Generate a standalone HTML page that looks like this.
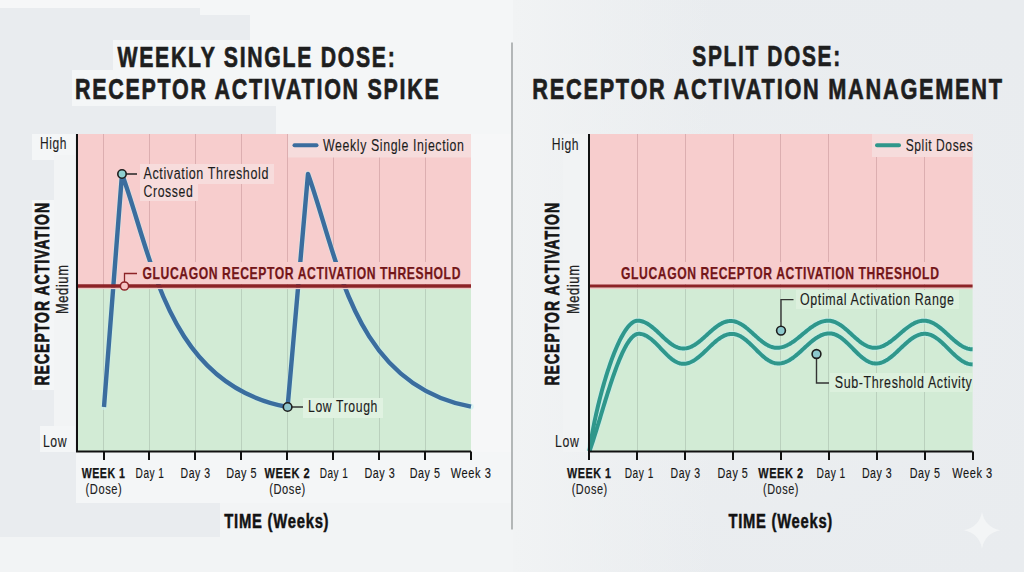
<!DOCTYPE html>
<html><head><meta charset="utf-8"><style>
html,body{margin:0;padding:0;background:#e8ecee;}
svg{display:block;font-family:"Liberation Sans", sans-serif;}
</style></head><body>
<svg width="1024" height="572" viewBox="0 0 1024 572">
<defs>
<radialGradient id="bgg" cx="760" cy="300" r="420" gradientUnits="userSpaceOnUse">
<stop offset="0" stop-color="#f2f4f5" stop-opacity="0.5"/>
<stop offset="1" stop-color="#e8ecee" stop-opacity="0"/>
</radialGradient>
<linearGradient id="bgl" x1="513" y1="0" x2="713" y2="0" gradientUnits="userSpaceOnUse">
<stop offset="0" stop-color="#f1f3f4" stop-opacity="1"/>
<stop offset="1" stop-color="#f1f3f4" stop-opacity="0"/>
</linearGradient>
</defs>
<rect x="0" y="0" width="1024" height="572" fill="#e9ecef"/>
<rect x="0" y="0" width="1024" height="572" fill="url(#bgg)"/>
<rect x="513" y="0" width="200" height="572" fill="url(#bgl)"/>
<rect x="0" y="0" width="200" height="8" fill="#f6f7f8"/>
<rect x="250" y="0" width="263" height="40" fill="#f4f6f7"/>
<rect x="200" y="0" width="50" height="15" fill="#f4f6f7"/>
<rect x="113" y="40" width="400" height="30" fill="#f4f6f7"/>
<rect x="72" y="70" width="441" height="36" fill="#f4f6f7"/>
<rect x="276" y="106" width="237" height="28" fill="#f4f6f7"/>
<rect x="471" y="134" width="42" height="318" fill="#f6f7f8"/>
<rect x="563" y="134" width="26" height="318" fill="#f1f3f4"/>
<rect x="32" y="134" width="43" height="26" fill="#f4f6f7"/>
<rect x="32" y="200" width="25" height="190" fill="#f4f6f7"/>
<rect x="54" y="155" width="21" height="295" fill="#f2f4f5"/>
<rect x="40" y="426" width="35" height="26" fill="#f4f6f7"/>
<rect x="76" y="452" width="437" height="51" fill="#f4f6f7"/>
<rect x="220" y="503" width="293" height="69" fill="#f2f4f5"/>
<rect x="0" y="537" width="225" height="35" fill="#f2f4f5"/>
<line x1="512" y1="42.5" x2="512" y2="529.5" stroke="#a3a7a7" stroke-width="1.6"/>
<text x="117.5" y="66.6" font-size="30" font-weight="bold" fill="#1e1e1e" stroke="#1e1e1e" stroke-width="0.7" textLength="279.0" lengthAdjust="spacingAndGlyphs" letter-spacing="2.40">WEEKLY SINGLE DOSE:</text>
<text x="75.0" y="98.5" font-size="30" font-weight="bold" fill="#1e1e1e" stroke="#1e1e1e" stroke-width="0.7" textLength="365.5" lengthAdjust="spacingAndGlyphs" letter-spacing="2.40">RECEPTOR ACTIVATION SPIKE</text>
<text x="692.3" y="66.3" font-size="30" font-weight="bold" fill="#1e1e1e" stroke="#1e1e1e" stroke-width="0.7" textLength="149.5" lengthAdjust="spacingAndGlyphs" letter-spacing="2.40">SPLIT DOSE:</text>
<text x="532.3" y="98.5" font-size="30" font-weight="bold" fill="#1e1e1e" stroke="#1e1e1e" stroke-width="0.7" textLength="471.5" lengthAdjust="spacingAndGlyphs" letter-spacing="2.40">RECEPTOR ACTIVATION MANAGEMENT</text>
<rect x="77" y="134" width="394" height="152" fill="#f7cdcd"/>
<rect x="77" y="286" width="394" height="165.5" fill="#d2ebd5"/>
<line x1="103.5" y1="134" x2="103.5" y2="286" stroke="#dcaeb0" stroke-width="1"/>
<line x1="103.5" y1="286" x2="103.5" y2="451.5" stroke="#bad0bd" stroke-width="1"/>
<line x1="149.5" y1="134" x2="149.5" y2="286" stroke="#dcaeb0" stroke-width="1"/>
<line x1="149.5" y1="286" x2="149.5" y2="451.5" stroke="#bad0bd" stroke-width="1"/>
<line x1="195.5" y1="134" x2="195.5" y2="286" stroke="#dcaeb0" stroke-width="1"/>
<line x1="195.5" y1="286" x2="195.5" y2="451.5" stroke="#bad0bd" stroke-width="1"/>
<line x1="241.5" y1="134" x2="241.5" y2="286" stroke="#dcaeb0" stroke-width="1"/>
<line x1="241.5" y1="286" x2="241.5" y2="451.5" stroke="#bad0bd" stroke-width="1"/>
<line x1="287.5" y1="134" x2="287.5" y2="286" stroke="#dcaeb0" stroke-width="1"/>
<line x1="287.5" y1="286" x2="287.5" y2="451.5" stroke="#bad0bd" stroke-width="1"/>
<line x1="333.5" y1="134" x2="333.5" y2="286" stroke="#dcaeb0" stroke-width="1"/>
<line x1="333.5" y1="286" x2="333.5" y2="451.5" stroke="#bad0bd" stroke-width="1"/>
<line x1="379.5" y1="134" x2="379.5" y2="286" stroke="#dcaeb0" stroke-width="1"/>
<line x1="379.5" y1="286" x2="379.5" y2="451.5" stroke="#bad0bd" stroke-width="1"/>
<line x1="425.5" y1="134" x2="425.5" y2="286" stroke="#dcaeb0" stroke-width="1"/>
<line x1="425.5" y1="286" x2="425.5" y2="451.5" stroke="#bad0bd" stroke-width="1"/>
<path d="M104,407 L122,174 C152.7,258.2 167.5,385 287.6,407 L308,174 C338.2,258.2 352.8,385 471,406.7" fill="none" stroke="#c9f0f0" stroke-width="5.8" stroke-linejoin="round" stroke-linecap="round" opacity="0.6"/>
<path d="M104,407 L122,174 C152.7,258.2 167.5,385 287.6,407 L308,174 C338.2,258.2 352.8,385 471,406.7" fill="none" stroke="#3b6d9e" stroke-width="4.4" stroke-linejoin="round"/>
<rect x="139" y="262" width="332" height="22" fill="#f7cdcd"/>
<rect x="77" y="287.5" width="394" height="1.6" fill="#f0c8c6"/>
<line x1="77" y1="286" x2="471" y2="286" stroke="#8d2327" stroke-width="3.4"/>
<text x="142.5" y="279.0" font-size="16.4" font-weight="bold" fill="#731619" stroke="#731619" stroke-width="0.25" textLength="318.5" lengthAdjust="spacingAndGlyphs" letter-spacing="0.82">GLUCAGON RECEPTOR ACTIVATION THRESHOLD</text>
<path d="M124.5,282 L124.5,273.5 L137,273.5" fill="none" stroke="#8d2327" stroke-width="1.3"/>
<circle cx="124.5" cy="286" r="4.1" fill="#f6c4c4" stroke="#8d2327" stroke-width="1.5"/>
<rect x="288" y="134" width="183" height="23.5" fill="#f6dcdc"/>
<line x1="294.5" y1="145.3" x2="316.5" y2="145.3" stroke="#3b6d9e" stroke-width="4" stroke-linecap="round"/>
<text x="323.0" y="150.9" font-size="16" fill="#1c1c1c" stroke="#1c1c1c" stroke-width="0.12" textLength="141.5" lengthAdjust="spacingAndGlyphs" letter-spacing="0.80">Weekly Single Injection</text>
<rect x="140" y="164" width="134" height="20" fill="#f7dcdc"/>
<rect x="140" y="184" width="58" height="17" fill="#f7dcdc"/>
<text x="143.5" y="179.0" font-size="16" fill="#1c1c1c" stroke="#1c1c1c" stroke-width="0.12" textLength="125.5" lengthAdjust="spacingAndGlyphs" letter-spacing="0.80">Activation Threshold</text>
<text x="143.5" y="196.5" font-size="16" fill="#1c1c1c" stroke="#1c1c1c" stroke-width="0.12" textLength="50.0" lengthAdjust="spacingAndGlyphs" letter-spacing="0.80">Crossed</text>
<line x1="126" y1="174" x2="137" y2="174" stroke="#222" stroke-width="1.5"/>
<circle cx="122" cy="174" r="4.2" fill="#8fd0d0" stroke="#1e1e1e" stroke-width="1.6"/>
<rect x="303" y="398" width="80" height="20" fill="#e0f2e1"/>
<line x1="292" y1="407" x2="303" y2="407" stroke="#333" stroke-width="1.5"/>
<circle cx="287.6" cy="407" r="4.3" fill="#8cc4cc" stroke="#1e1e1e" stroke-width="1.6"/>
<text x="308.0" y="411.9" font-size="16" fill="#1c1c1c" stroke="#1c1c1c" stroke-width="0.12" textLength="70.0" lengthAdjust="spacingAndGlyphs" letter-spacing="0.80">Low Trough</text>
<path d="M77,134 L77,451.5 L471,451.5" fill="none" stroke="#111" stroke-width="2"/>
<line x1="104" y1="451.5" x2="104" y2="460" stroke="#111" stroke-width="2"/>
<line x1="149" y1="451.5" x2="149" y2="460" stroke="#111" stroke-width="2"/>
<line x1="195" y1="451.5" x2="195" y2="460" stroke="#111" stroke-width="2"/>
<line x1="241" y1="451.5" x2="241" y2="460" stroke="#111" stroke-width="2"/>
<line x1="287" y1="451.5" x2="287" y2="460" stroke="#111" stroke-width="2"/>
<line x1="333" y1="451.5" x2="333" y2="460" stroke="#111" stroke-width="2"/>
<line x1="379" y1="451.5" x2="379" y2="460" stroke="#111" stroke-width="2"/>
<line x1="425" y1="451.5" x2="425" y2="460" stroke="#111" stroke-width="2"/>
<line x1="471" y1="451.5" x2="471" y2="460" stroke="#111" stroke-width="2"/>
<text x="40.0" y="149.2" font-size="16" fill="#1c1c1c" stroke="#1c1c1c" stroke-width="0.12" textLength="27.0" lengthAdjust="spacingAndGlyphs" letter-spacing="0.80">High</text>
<text x="42.9" y="446.5" font-size="16" fill="#1c1c1c" stroke="#1c1c1c" stroke-width="0.12" textLength="24.3" lengthAdjust="spacingAndGlyphs" letter-spacing="0.80">Low</text>
<rect x="589" y="134" width="383.6" height="152" fill="#f7cdcd"/>
<rect x="589" y="286" width="383.6" height="165.5" fill="#d2ebd5"/>
<line x1="637.5" y1="134" x2="637.5" y2="286" stroke="#dcaeb0" stroke-width="1"/>
<line x1="637.5" y1="286" x2="637.5" y2="451.5" stroke="#bad0bd" stroke-width="1"/>
<line x1="685.5" y1="134" x2="685.5" y2="286" stroke="#dcaeb0" stroke-width="1"/>
<line x1="685.5" y1="286" x2="685.5" y2="451.5" stroke="#bad0bd" stroke-width="1"/>
<line x1="733.5" y1="134" x2="733.5" y2="286" stroke="#dcaeb0" stroke-width="1"/>
<line x1="733.5" y1="286" x2="733.5" y2="451.5" stroke="#bad0bd" stroke-width="1"/>
<line x1="780.5" y1="134" x2="780.5" y2="286" stroke="#dcaeb0" stroke-width="1"/>
<line x1="780.5" y1="286" x2="780.5" y2="451.5" stroke="#bad0bd" stroke-width="1"/>
<line x1="828.5" y1="134" x2="828.5" y2="286" stroke="#dcaeb0" stroke-width="1"/>
<line x1="828.5" y1="286" x2="828.5" y2="451.5" stroke="#bad0bd" stroke-width="1"/>
<line x1="876.5" y1="134" x2="876.5" y2="286" stroke="#dcaeb0" stroke-width="1"/>
<line x1="876.5" y1="286" x2="876.5" y2="451.5" stroke="#bad0bd" stroke-width="1"/>
<line x1="924.5" y1="134" x2="924.5" y2="286" stroke="#dcaeb0" stroke-width="1"/>
<line x1="924.5" y1="286" x2="924.5" y2="451.5" stroke="#bad0bd" stroke-width="1"/>
<path d="M589.50,451.00 L589.81,448.63 L590.16,446.19 L590.53,443.71 L590.92,441.17 L591.34,438.58 L591.79,435.95 L592.26,433.28 L592.76,430.58 L593.28,427.84 L593.83,425.06 L594.39,422.26 L594.98,419.44 L595.59,416.59 L596.22,413.73 L596.88,410.85 L597.55,407.97 L598.24,405.07 L598.94,402.17 L599.67,399.27 L600.41,396.37 L601.18,393.48 L601.95,390.60 L602.74,387.73 L603.55,384.87 L604.37,382.04 L605.21,379.22 L606.06,376.44 L606.92,373.68 L607.79,370.95 L608.68,368.26 L609.57,365.61 L610.48,363.00 L611.39,360.44 L612.32,357.93 L613.25,355.46 L614.19,353.06 L615.14,350.71 L616.09,348.43 L617.05,346.21 L618.02,344.06 L618.99,341.98 L619.97,339.98 L620.94,338.06 L621.93,336.22 L622.91,334.46 L623.90,332.80 L624.89,331.23 L625.88,329.75 L626.87,328.37 L627.86,327.09 L628.84,325.92 L629.83,324.86 L630.82,323.92 L631.80,323.08 L632.78,322.37 L633.75,321.78 L634.72,321.31 L635.69,320.97 L636.65,320.77 L637.60,320.70 L638.60,320.73 L639.59,320.83 L640.59,320.99 L641.58,321.22 L642.58,321.50 L643.57,321.85 L644.57,322.26 L645.57,322.72 L646.56,323.24 L647.56,323.82 L648.55,324.44 L649.55,325.11 L650.54,325.83 L651.54,326.58 L652.53,327.38 L653.53,328.21 L654.53,329.06 L655.52,329.95 L656.52,330.85 L657.51,331.77 L658.51,332.71 L659.50,333.65 L660.50,334.60 L661.50,335.55 L662.49,336.49 L663.49,337.43 L664.48,338.35 L665.48,339.25 L666.47,340.14 L667.47,340.99 L668.47,341.82 L669.46,342.62 L670.46,343.37 L671.45,344.09 L672.45,344.76 L673.44,345.38 L674.44,345.96 L675.43,346.48 L676.43,346.94 L677.43,347.35 L678.42,347.70 L679.42,347.98 L680.41,348.21 L681.41,348.37 L682.40,348.47 L683.40,348.50 L684.41,348.47 L685.41,348.38 L686.42,348.22 L687.43,348.01 L688.43,347.74 L689.44,347.41 L690.44,347.02 L691.45,346.58 L692.46,346.09 L693.46,345.54 L694.47,344.95 L695.48,344.31 L696.48,343.63 L697.49,342.91 L698.50,342.15 L699.50,341.36 L700.51,340.54 L701.51,339.69 L702.52,338.82 L703.53,337.94 L704.53,337.04 L705.54,336.13 L706.55,335.21 L707.55,334.29 L708.56,333.37 L709.57,332.46 L710.57,331.56 L711.58,330.68 L712.59,329.81 L713.59,328.96 L714.60,328.14 L715.60,327.35 L716.61,326.59 L717.62,325.87 L718.62,325.19 L719.63,324.55 L720.64,323.96 L721.64,323.41 L722.65,322.92 L723.66,322.48 L724.66,322.09 L725.67,321.76 L726.67,321.49 L727.68,321.28 L728.69,321.12 L729.69,321.03 L730.70,321.00 L731.71,321.03 L732.71,321.12 L733.72,321.28 L734.73,321.50 L735.73,321.77 L736.74,322.11 L737.75,322.50 L738.75,322.95 L739.76,323.45 L740.77,324.01 L741.77,324.61 L742.78,325.25 L743.78,325.94 L744.79,326.67 L745.80,327.44 L746.80,328.24 L747.81,329.06 L748.82,329.91 L749.82,330.78 L750.83,331.67 L751.84,332.58 L752.84,333.49 L753.85,334.40 L754.86,335.31 L755.86,336.22 L756.87,337.13 L757.88,338.02 L758.88,338.89 L759.89,339.74 L760.90,340.56 L761.90,341.36 L762.91,342.13 L763.92,342.86 L764.92,343.55 L765.93,344.19 L766.93,344.79 L767.94,345.35 L768.95,345.85 L769.95,346.30 L770.96,346.69 L771.97,347.03 L772.97,347.30 L773.98,347.52 L774.99,347.68 L775.99,347.77 L777.00,347.80 L778.00,347.77 L779.01,347.70 L780.01,347.57 L781.02,347.39 L782.02,347.16 L783.02,346.88 L784.03,346.56 L785.03,346.19 L786.04,345.77 L787.04,345.31 L788.04,344.81 L789.05,344.26 L790.05,343.68 L791.05,343.07 L792.06,342.42 L793.06,341.73 L794.07,341.03 L795.07,340.29 L796.07,339.53 L797.08,338.75 L798.08,337.96 L799.09,337.15 L800.09,336.33 L801.09,335.50 L802.10,334.67 L803.10,333.83 L804.11,333.00 L805.11,332.17 L806.11,331.35 L807.12,330.54 L808.12,329.75 L809.13,328.97 L810.13,328.21 L811.13,327.48 L812.14,326.77 L813.14,326.08 L814.15,325.43 L815.15,324.82 L816.15,324.24 L817.16,323.69 L818.16,323.19 L819.16,322.73 L820.17,322.31 L821.17,321.94 L822.18,321.62 L823.18,321.34 L824.18,321.11 L825.19,320.93 L826.19,320.80 L827.20,320.73 L828.20,320.70 L829.21,320.73 L830.22,320.83 L831.23,320.98 L832.24,321.20 L833.25,321.48 L834.27,321.82 L835.28,322.22 L836.29,322.67 L837.30,323.18 L838.31,323.74 L839.32,324.35 L840.33,325.00 L841.34,325.70 L842.35,326.44 L843.36,327.21 L844.37,328.02 L845.38,328.85 L846.40,329.71 L847.41,330.59 L848.42,331.49 L849.43,332.40 L850.44,333.33 L851.45,334.25 L852.46,335.17 L853.47,336.10 L854.48,337.01 L855.49,337.91 L856.50,338.79 L857.52,339.65 L858.53,340.48 L859.54,341.29 L860.55,342.06 L861.56,342.80 L862.57,343.50 L863.58,344.15 L864.59,344.76 L865.60,345.32 L866.61,345.83 L867.62,346.28 L868.63,346.68 L869.65,347.02 L870.66,347.30 L871.67,347.52 L872.68,347.67 L873.69,347.77 L874.70,347.80 L875.71,347.77 L876.71,347.69 L877.72,347.55 L878.72,347.36 L879.73,347.11 L880.74,346.81 L881.74,346.46 L882.75,346.06 L883.76,345.61 L884.76,345.11 L885.77,344.57 L886.77,343.98 L887.78,343.36 L888.79,342.70 L889.79,342.00 L890.80,341.27 L891.80,340.52 L892.81,339.73 L893.82,338.93 L894.82,338.11 L895.83,337.27 L896.83,336.41 L897.84,335.55 L898.85,334.68 L899.85,333.82 L900.86,332.95 L901.87,332.09 L902.87,331.23 L903.88,330.39 L904.88,329.57 L905.89,328.77 L906.90,327.98 L907.90,327.23 L908.91,326.50 L909.91,325.80 L910.92,325.14 L911.93,324.52 L912.93,323.93 L913.94,323.39 L914.94,322.89 L915.95,322.44 L916.96,322.04 L917.96,321.69 L918.97,321.39 L919.98,321.14 L920.98,320.95 L921.99,320.81 L922.99,320.73 L924.00,320.70 L924.99,320.73 L925.98,320.82 L926.98,320.96 L927.97,321.17 L928.96,321.43 L929.95,321.75 L930.94,322.12 L931.93,322.54 L932.93,323.02 L933.92,323.54 L934.91,324.11 L935.90,324.73 L936.89,325.39 L937.89,326.08 L938.88,326.82 L939.87,327.59 L940.86,328.39 L941.85,329.21 L942.84,330.06 L943.84,330.93 L944.83,331.82 L945.82,332.72 L946.81,333.63 L947.80,334.54 L948.80,335.46 L949.79,336.37 L950.78,337.28 L951.77,338.18 L952.76,339.07 L953.76,339.94 L954.75,340.79 L955.74,341.61 L956.73,342.41 L957.72,343.18 L958.71,343.92 L959.71,344.61 L960.70,345.27 L961.69,345.89 L962.68,346.46 L963.67,346.98 L964.67,347.46 L965.66,347.88 L966.65,348.25 L967.64,348.57 L968.63,348.83 L969.62,349.04 L970.62,349.18 L971.61,349.27 L972.60,349.30" fill="none" stroke="#c4eeec" stroke-width="5.8" stroke-linejoin="round" opacity="0.7"/>
<path d="M589.50,451.00 L590.15,449.20 L590.81,447.32 L591.48,445.37 L592.15,443.36 L592.84,441.28 L593.53,439.14 L594.23,436.95 L594.94,434.70 L595.65,432.40 L596.38,430.06 L597.11,427.68 L597.85,425.26 L598.59,422.80 L599.35,420.31 L600.11,417.80 L600.87,415.26 L601.65,412.69 L602.42,410.12 L603.21,407.53 L604.00,404.93 L604.80,402.32 L605.60,399.71 L606.41,397.10 L607.22,394.50 L608.04,391.90 L608.87,389.31 L609.70,386.75 L610.53,384.19 L611.37,381.67 L612.21,379.16 L613.06,376.69 L613.91,374.25 L614.77,371.84 L615.62,369.48 L616.49,367.16 L617.35,364.89 L618.22,362.67 L619.09,360.50 L619.97,358.39 L620.85,356.34 L621.73,354.36 L622.61,352.44 L623.50,350.60 L624.39,348.84 L625.27,347.15 L626.17,345.54 L627.06,344.03 L627.95,342.60 L628.85,341.27 L629.75,340.03 L630.65,338.89 L631.55,337.86 L632.44,336.94 L633.35,336.13 L634.25,335.43 L635.15,334.85 L636.05,334.40 L636.95,334.07 L637.85,333.87 L638.75,333.80 L639.74,333.84 L640.73,333.95 L641.73,334.13 L642.72,334.38 L643.71,334.70 L644.70,335.10 L645.70,335.56 L646.69,336.08 L647.68,336.66 L648.67,337.31 L649.66,338.01 L650.66,338.76 L651.65,339.57 L652.64,340.41 L653.63,341.30 L654.63,342.22 L655.62,343.18 L656.61,344.16 L657.60,345.17 L658.59,346.20 L659.59,347.23 L660.58,348.28 L661.57,349.32 L662.56,350.37 L663.56,351.40 L664.55,352.43 L665.54,353.44 L666.53,354.42 L667.52,355.38 L668.52,356.30 L669.51,357.19 L670.50,358.03 L671.49,358.84 L672.49,359.59 L673.48,360.29 L674.47,360.94 L675.46,361.52 L676.45,362.04 L677.45,362.50 L678.44,362.90 L679.43,363.22 L680.42,363.47 L681.42,363.65 L682.41,363.76 L683.40,363.80 L684.41,363.77 L685.42,363.67 L686.43,363.51 L687.44,363.29 L688.45,363.01 L689.46,362.66 L690.47,362.26 L691.48,361.80 L692.49,361.28 L693.50,360.71 L694.51,360.09 L695.52,359.42 L696.54,358.71 L697.55,357.95 L698.56,357.16 L699.57,356.32 L700.58,355.46 L701.59,354.57 L702.60,353.66 L703.61,352.72 L704.62,351.77 L705.63,350.80 L706.64,349.83 L707.65,348.85 L708.66,347.87 L709.67,346.90 L710.68,345.93 L711.69,344.98 L712.70,344.04 L713.71,343.13 L714.72,342.24 L715.73,341.38 L716.74,340.54 L717.75,339.75 L718.76,338.99 L719.77,338.28 L720.79,337.61 L721.80,336.99 L722.81,336.42 L723.82,335.90 L724.83,335.44 L725.84,335.04 L726.85,334.69 L727.86,334.41 L728.87,334.19 L729.88,334.03 L730.89,333.93 L731.90,333.90 L732.91,333.93 L733.92,334.04 L734.93,334.21 L735.93,334.45 L736.94,334.75 L737.95,335.13 L738.96,335.56 L739.97,336.05 L740.98,336.61 L741.99,337.22 L743.00,337.88 L744.00,338.60 L745.01,339.36 L746.02,340.17 L747.03,341.01 L748.04,341.89 L749.05,342.80 L750.06,343.74 L751.07,344.71 L752.07,345.69 L753.08,346.68 L754.09,347.69 L755.10,348.70 L756.11,349.71 L757.12,350.72 L758.13,351.71 L759.13,352.69 L760.14,353.66 L761.15,354.60 L762.16,355.51 L763.17,356.39 L764.18,357.23 L765.19,358.04 L766.20,358.80 L767.20,359.52 L768.21,360.18 L769.22,360.79 L770.23,361.35 L771.24,361.84 L772.25,362.27 L773.26,362.65 L774.27,362.95 L775.27,363.19 L776.28,363.36 L777.29,363.47 L778.30,363.50 L779.30,363.47 L780.30,363.39 L781.31,363.24 L782.31,363.05 L783.31,362.79 L784.31,362.48 L785.31,362.12 L786.32,361.71 L787.32,361.25 L788.32,360.73 L789.32,360.18 L790.32,359.57 L791.33,358.93 L792.33,358.24 L793.33,357.52 L794.33,356.76 L795.33,355.98 L796.34,355.16 L797.34,354.32 L798.34,353.45 L799.34,352.57 L800.34,351.67 L801.35,350.76 L802.35,349.84 L803.35,348.91 L804.35,347.99 L805.35,347.06 L806.35,346.14 L807.36,345.23 L808.36,344.33 L809.36,343.45 L810.36,342.58 L811.36,341.74 L812.37,340.93 L813.37,340.14 L814.37,339.38 L815.37,338.66 L816.37,337.97 L817.38,337.33 L818.38,336.72 L819.38,336.17 L820.38,335.65 L821.38,335.19 L822.39,334.78 L823.39,334.42 L824.39,334.11 L825.39,333.85 L826.39,333.66 L827.40,333.51 L828.40,333.43 L829.40,333.40 L830.41,333.44 L831.42,333.54 L832.43,333.71 L833.44,333.96 L834.45,334.27 L835.47,334.65 L836.48,335.09 L837.49,335.59 L838.50,336.15 L839.51,336.78 L840.52,337.45 L841.53,338.18 L842.54,338.95 L843.55,339.77 L844.56,340.63 L845.57,341.53 L846.58,342.45 L847.60,343.41 L848.61,344.39 L849.62,345.39 L850.63,346.40 L851.64,347.42 L852.65,348.45 L853.66,349.48 L854.67,350.50 L855.68,351.51 L856.69,352.51 L857.70,353.49 L858.72,354.45 L859.73,355.37 L860.74,356.27 L861.75,357.13 L862.76,357.95 L863.77,358.72 L864.78,359.45 L865.79,360.12 L866.80,360.75 L867.81,361.31 L868.82,361.81 L869.83,362.25 L870.85,362.63 L871.86,362.94 L872.87,363.19 L873.88,363.36 L874.89,363.46 L875.90,363.50 L876.90,363.47 L877.89,363.38 L878.89,363.23 L879.88,363.01 L880.88,362.74 L881.88,362.41 L882.87,362.03 L883.87,361.59 L884.86,361.10 L885.86,360.55 L886.86,359.96 L887.85,359.32 L888.85,358.63 L889.84,357.91 L890.84,357.15 L891.83,356.35 L892.83,355.52 L893.83,354.66 L894.82,353.78 L895.82,352.88 L896.81,351.95 L897.81,351.02 L898.81,350.08 L899.80,349.13 L900.80,348.17 L901.79,347.22 L902.79,346.28 L903.79,345.35 L904.78,344.42 L905.78,343.52 L906.77,342.64 L907.77,341.78 L908.77,340.95 L909.76,340.15 L910.76,339.39 L911.75,338.67 L912.75,337.98 L913.74,337.34 L914.74,336.75 L915.74,336.20 L916.73,335.71 L917.73,335.27 L918.72,334.89 L919.72,334.56 L920.72,334.29 L921.71,334.07 L922.71,333.92 L923.70,333.83 L924.70,333.80 L925.70,333.83 L926.70,333.93 L927.69,334.09 L928.69,334.32 L929.69,334.61 L930.69,334.96 L931.69,335.38 L932.68,335.85 L933.68,336.38 L934.68,336.96 L935.68,337.60 L936.68,338.28 L937.67,339.01 L938.67,339.79 L939.67,340.60 L940.67,341.45 L941.66,342.33 L942.66,343.24 L943.66,344.18 L944.66,345.14 L945.66,346.12 L946.65,347.10 L947.65,348.10 L948.65,349.10 L949.65,350.10 L950.65,351.10 L951.64,352.08 L952.64,353.06 L953.64,354.02 L954.64,354.96 L955.64,355.87 L956.63,356.75 L957.63,357.60 L958.63,358.41 L959.63,359.19 L960.62,359.92 L961.62,360.60 L962.62,361.24 L963.62,361.82 L964.62,362.35 L965.61,362.82 L966.61,363.24 L967.61,363.59 L968.61,363.88 L969.61,364.11 L970.60,364.27 L971.60,364.37 L972.60,364.40" fill="none" stroke="#c4eeec" stroke-width="5.8" stroke-linejoin="round" opacity="0.7"/>
<path d="M589.50,451.00 L589.81,448.63 L590.16,446.19 L590.53,443.71 L590.92,441.17 L591.34,438.58 L591.79,435.95 L592.26,433.28 L592.76,430.58 L593.28,427.84 L593.83,425.06 L594.39,422.26 L594.98,419.44 L595.59,416.59 L596.22,413.73 L596.88,410.85 L597.55,407.97 L598.24,405.07 L598.94,402.17 L599.67,399.27 L600.41,396.37 L601.18,393.48 L601.95,390.60 L602.74,387.73 L603.55,384.87 L604.37,382.04 L605.21,379.22 L606.06,376.44 L606.92,373.68 L607.79,370.95 L608.68,368.26 L609.57,365.61 L610.48,363.00 L611.39,360.44 L612.32,357.93 L613.25,355.46 L614.19,353.06 L615.14,350.71 L616.09,348.43 L617.05,346.21 L618.02,344.06 L618.99,341.98 L619.97,339.98 L620.94,338.06 L621.93,336.22 L622.91,334.46 L623.90,332.80 L624.89,331.23 L625.88,329.75 L626.87,328.37 L627.86,327.09 L628.84,325.92 L629.83,324.86 L630.82,323.92 L631.80,323.08 L632.78,322.37 L633.75,321.78 L634.72,321.31 L635.69,320.97 L636.65,320.77 L637.60,320.70 L638.60,320.73 L639.59,320.83 L640.59,320.99 L641.58,321.22 L642.58,321.50 L643.57,321.85 L644.57,322.26 L645.57,322.72 L646.56,323.24 L647.56,323.82 L648.55,324.44 L649.55,325.11 L650.54,325.83 L651.54,326.58 L652.53,327.38 L653.53,328.21 L654.53,329.06 L655.52,329.95 L656.52,330.85 L657.51,331.77 L658.51,332.71 L659.50,333.65 L660.50,334.60 L661.50,335.55 L662.49,336.49 L663.49,337.43 L664.48,338.35 L665.48,339.25 L666.47,340.14 L667.47,340.99 L668.47,341.82 L669.46,342.62 L670.46,343.37 L671.45,344.09 L672.45,344.76 L673.44,345.38 L674.44,345.96 L675.43,346.48 L676.43,346.94 L677.43,347.35 L678.42,347.70 L679.42,347.98 L680.41,348.21 L681.41,348.37 L682.40,348.47 L683.40,348.50 L684.41,348.47 L685.41,348.38 L686.42,348.22 L687.43,348.01 L688.43,347.74 L689.44,347.41 L690.44,347.02 L691.45,346.58 L692.46,346.09 L693.46,345.54 L694.47,344.95 L695.48,344.31 L696.48,343.63 L697.49,342.91 L698.50,342.15 L699.50,341.36 L700.51,340.54 L701.51,339.69 L702.52,338.82 L703.53,337.94 L704.53,337.04 L705.54,336.13 L706.55,335.21 L707.55,334.29 L708.56,333.37 L709.57,332.46 L710.57,331.56 L711.58,330.68 L712.59,329.81 L713.59,328.96 L714.60,328.14 L715.60,327.35 L716.61,326.59 L717.62,325.87 L718.62,325.19 L719.63,324.55 L720.64,323.96 L721.64,323.41 L722.65,322.92 L723.66,322.48 L724.66,322.09 L725.67,321.76 L726.67,321.49 L727.68,321.28 L728.69,321.12 L729.69,321.03 L730.70,321.00 L731.71,321.03 L732.71,321.12 L733.72,321.28 L734.73,321.50 L735.73,321.77 L736.74,322.11 L737.75,322.50 L738.75,322.95 L739.76,323.45 L740.77,324.01 L741.77,324.61 L742.78,325.25 L743.78,325.94 L744.79,326.67 L745.80,327.44 L746.80,328.24 L747.81,329.06 L748.82,329.91 L749.82,330.78 L750.83,331.67 L751.84,332.58 L752.84,333.49 L753.85,334.40 L754.86,335.31 L755.86,336.22 L756.87,337.13 L757.88,338.02 L758.88,338.89 L759.89,339.74 L760.90,340.56 L761.90,341.36 L762.91,342.13 L763.92,342.86 L764.92,343.55 L765.93,344.19 L766.93,344.79 L767.94,345.35 L768.95,345.85 L769.95,346.30 L770.96,346.69 L771.97,347.03 L772.97,347.30 L773.98,347.52 L774.99,347.68 L775.99,347.77 L777.00,347.80 L778.00,347.77 L779.01,347.70 L780.01,347.57 L781.02,347.39 L782.02,347.16 L783.02,346.88 L784.03,346.56 L785.03,346.19 L786.04,345.77 L787.04,345.31 L788.04,344.81 L789.05,344.26 L790.05,343.68 L791.05,343.07 L792.06,342.42 L793.06,341.73 L794.07,341.03 L795.07,340.29 L796.07,339.53 L797.08,338.75 L798.08,337.96 L799.09,337.15 L800.09,336.33 L801.09,335.50 L802.10,334.67 L803.10,333.83 L804.11,333.00 L805.11,332.17 L806.11,331.35 L807.12,330.54 L808.12,329.75 L809.13,328.97 L810.13,328.21 L811.13,327.48 L812.14,326.77 L813.14,326.08 L814.15,325.43 L815.15,324.82 L816.15,324.24 L817.16,323.69 L818.16,323.19 L819.16,322.73 L820.17,322.31 L821.17,321.94 L822.18,321.62 L823.18,321.34 L824.18,321.11 L825.19,320.93 L826.19,320.80 L827.20,320.73 L828.20,320.70 L829.21,320.73 L830.22,320.83 L831.23,320.98 L832.24,321.20 L833.25,321.48 L834.27,321.82 L835.28,322.22 L836.29,322.67 L837.30,323.18 L838.31,323.74 L839.32,324.35 L840.33,325.00 L841.34,325.70 L842.35,326.44 L843.36,327.21 L844.37,328.02 L845.38,328.85 L846.40,329.71 L847.41,330.59 L848.42,331.49 L849.43,332.40 L850.44,333.33 L851.45,334.25 L852.46,335.17 L853.47,336.10 L854.48,337.01 L855.49,337.91 L856.50,338.79 L857.52,339.65 L858.53,340.48 L859.54,341.29 L860.55,342.06 L861.56,342.80 L862.57,343.50 L863.58,344.15 L864.59,344.76 L865.60,345.32 L866.61,345.83 L867.62,346.28 L868.63,346.68 L869.65,347.02 L870.66,347.30 L871.67,347.52 L872.68,347.67 L873.69,347.77 L874.70,347.80 L875.71,347.77 L876.71,347.69 L877.72,347.55 L878.72,347.36 L879.73,347.11 L880.74,346.81 L881.74,346.46 L882.75,346.06 L883.76,345.61 L884.76,345.11 L885.77,344.57 L886.77,343.98 L887.78,343.36 L888.79,342.70 L889.79,342.00 L890.80,341.27 L891.80,340.52 L892.81,339.73 L893.82,338.93 L894.82,338.11 L895.83,337.27 L896.83,336.41 L897.84,335.55 L898.85,334.68 L899.85,333.82 L900.86,332.95 L901.87,332.09 L902.87,331.23 L903.88,330.39 L904.88,329.57 L905.89,328.77 L906.90,327.98 L907.90,327.23 L908.91,326.50 L909.91,325.80 L910.92,325.14 L911.93,324.52 L912.93,323.93 L913.94,323.39 L914.94,322.89 L915.95,322.44 L916.96,322.04 L917.96,321.69 L918.97,321.39 L919.98,321.14 L920.98,320.95 L921.99,320.81 L922.99,320.73 L924.00,320.70 L924.99,320.73 L925.98,320.82 L926.98,320.96 L927.97,321.17 L928.96,321.43 L929.95,321.75 L930.94,322.12 L931.93,322.54 L932.93,323.02 L933.92,323.54 L934.91,324.11 L935.90,324.73 L936.89,325.39 L937.89,326.08 L938.88,326.82 L939.87,327.59 L940.86,328.39 L941.85,329.21 L942.84,330.06 L943.84,330.93 L944.83,331.82 L945.82,332.72 L946.81,333.63 L947.80,334.54 L948.80,335.46 L949.79,336.37 L950.78,337.28 L951.77,338.18 L952.76,339.07 L953.76,339.94 L954.75,340.79 L955.74,341.61 L956.73,342.41 L957.72,343.18 L958.71,343.92 L959.71,344.61 L960.70,345.27 L961.69,345.89 L962.68,346.46 L963.67,346.98 L964.67,347.46 L965.66,347.88 L966.65,348.25 L967.64,348.57 L968.63,348.83 L969.62,349.04 L970.62,349.18 L971.61,349.27 L972.60,349.30" fill="none" stroke="#2f978b" stroke-width="4" stroke-linejoin="round"/>
<path d="M589.50,451.00 L590.15,449.20 L590.81,447.32 L591.48,445.37 L592.15,443.36 L592.84,441.28 L593.53,439.14 L594.23,436.95 L594.94,434.70 L595.65,432.40 L596.38,430.06 L597.11,427.68 L597.85,425.26 L598.59,422.80 L599.35,420.31 L600.11,417.80 L600.87,415.26 L601.65,412.69 L602.42,410.12 L603.21,407.53 L604.00,404.93 L604.80,402.32 L605.60,399.71 L606.41,397.10 L607.22,394.50 L608.04,391.90 L608.87,389.31 L609.70,386.75 L610.53,384.19 L611.37,381.67 L612.21,379.16 L613.06,376.69 L613.91,374.25 L614.77,371.84 L615.62,369.48 L616.49,367.16 L617.35,364.89 L618.22,362.67 L619.09,360.50 L619.97,358.39 L620.85,356.34 L621.73,354.36 L622.61,352.44 L623.50,350.60 L624.39,348.84 L625.27,347.15 L626.17,345.54 L627.06,344.03 L627.95,342.60 L628.85,341.27 L629.75,340.03 L630.65,338.89 L631.55,337.86 L632.44,336.94 L633.35,336.13 L634.25,335.43 L635.15,334.85 L636.05,334.40 L636.95,334.07 L637.85,333.87 L638.75,333.80 L639.74,333.84 L640.73,333.95 L641.73,334.13 L642.72,334.38 L643.71,334.70 L644.70,335.10 L645.70,335.56 L646.69,336.08 L647.68,336.66 L648.67,337.31 L649.66,338.01 L650.66,338.76 L651.65,339.57 L652.64,340.41 L653.63,341.30 L654.63,342.22 L655.62,343.18 L656.61,344.16 L657.60,345.17 L658.59,346.20 L659.59,347.23 L660.58,348.28 L661.57,349.32 L662.56,350.37 L663.56,351.40 L664.55,352.43 L665.54,353.44 L666.53,354.42 L667.52,355.38 L668.52,356.30 L669.51,357.19 L670.50,358.03 L671.49,358.84 L672.49,359.59 L673.48,360.29 L674.47,360.94 L675.46,361.52 L676.45,362.04 L677.45,362.50 L678.44,362.90 L679.43,363.22 L680.42,363.47 L681.42,363.65 L682.41,363.76 L683.40,363.80 L684.41,363.77 L685.42,363.67 L686.43,363.51 L687.44,363.29 L688.45,363.01 L689.46,362.66 L690.47,362.26 L691.48,361.80 L692.49,361.28 L693.50,360.71 L694.51,360.09 L695.52,359.42 L696.54,358.71 L697.55,357.95 L698.56,357.16 L699.57,356.32 L700.58,355.46 L701.59,354.57 L702.60,353.66 L703.61,352.72 L704.62,351.77 L705.63,350.80 L706.64,349.83 L707.65,348.85 L708.66,347.87 L709.67,346.90 L710.68,345.93 L711.69,344.98 L712.70,344.04 L713.71,343.13 L714.72,342.24 L715.73,341.38 L716.74,340.54 L717.75,339.75 L718.76,338.99 L719.77,338.28 L720.79,337.61 L721.80,336.99 L722.81,336.42 L723.82,335.90 L724.83,335.44 L725.84,335.04 L726.85,334.69 L727.86,334.41 L728.87,334.19 L729.88,334.03 L730.89,333.93 L731.90,333.90 L732.91,333.93 L733.92,334.04 L734.93,334.21 L735.93,334.45 L736.94,334.75 L737.95,335.13 L738.96,335.56 L739.97,336.05 L740.98,336.61 L741.99,337.22 L743.00,337.88 L744.00,338.60 L745.01,339.36 L746.02,340.17 L747.03,341.01 L748.04,341.89 L749.05,342.80 L750.06,343.74 L751.07,344.71 L752.07,345.69 L753.08,346.68 L754.09,347.69 L755.10,348.70 L756.11,349.71 L757.12,350.72 L758.13,351.71 L759.13,352.69 L760.14,353.66 L761.15,354.60 L762.16,355.51 L763.17,356.39 L764.18,357.23 L765.19,358.04 L766.20,358.80 L767.20,359.52 L768.21,360.18 L769.22,360.79 L770.23,361.35 L771.24,361.84 L772.25,362.27 L773.26,362.65 L774.27,362.95 L775.27,363.19 L776.28,363.36 L777.29,363.47 L778.30,363.50 L779.30,363.47 L780.30,363.39 L781.31,363.24 L782.31,363.05 L783.31,362.79 L784.31,362.48 L785.31,362.12 L786.32,361.71 L787.32,361.25 L788.32,360.73 L789.32,360.18 L790.32,359.57 L791.33,358.93 L792.33,358.24 L793.33,357.52 L794.33,356.76 L795.33,355.98 L796.34,355.16 L797.34,354.32 L798.34,353.45 L799.34,352.57 L800.34,351.67 L801.35,350.76 L802.35,349.84 L803.35,348.91 L804.35,347.99 L805.35,347.06 L806.35,346.14 L807.36,345.23 L808.36,344.33 L809.36,343.45 L810.36,342.58 L811.36,341.74 L812.37,340.93 L813.37,340.14 L814.37,339.38 L815.37,338.66 L816.37,337.97 L817.38,337.33 L818.38,336.72 L819.38,336.17 L820.38,335.65 L821.38,335.19 L822.39,334.78 L823.39,334.42 L824.39,334.11 L825.39,333.85 L826.39,333.66 L827.40,333.51 L828.40,333.43 L829.40,333.40 L830.41,333.44 L831.42,333.54 L832.43,333.71 L833.44,333.96 L834.45,334.27 L835.47,334.65 L836.48,335.09 L837.49,335.59 L838.50,336.15 L839.51,336.78 L840.52,337.45 L841.53,338.18 L842.54,338.95 L843.55,339.77 L844.56,340.63 L845.57,341.53 L846.58,342.45 L847.60,343.41 L848.61,344.39 L849.62,345.39 L850.63,346.40 L851.64,347.42 L852.65,348.45 L853.66,349.48 L854.67,350.50 L855.68,351.51 L856.69,352.51 L857.70,353.49 L858.72,354.45 L859.73,355.37 L860.74,356.27 L861.75,357.13 L862.76,357.95 L863.77,358.72 L864.78,359.45 L865.79,360.12 L866.80,360.75 L867.81,361.31 L868.82,361.81 L869.83,362.25 L870.85,362.63 L871.86,362.94 L872.87,363.19 L873.88,363.36 L874.89,363.46 L875.90,363.50 L876.90,363.47 L877.89,363.38 L878.89,363.23 L879.88,363.01 L880.88,362.74 L881.88,362.41 L882.87,362.03 L883.87,361.59 L884.86,361.10 L885.86,360.55 L886.86,359.96 L887.85,359.32 L888.85,358.63 L889.84,357.91 L890.84,357.15 L891.83,356.35 L892.83,355.52 L893.83,354.66 L894.82,353.78 L895.82,352.88 L896.81,351.95 L897.81,351.02 L898.81,350.08 L899.80,349.13 L900.80,348.17 L901.79,347.22 L902.79,346.28 L903.79,345.35 L904.78,344.42 L905.78,343.52 L906.77,342.64 L907.77,341.78 L908.77,340.95 L909.76,340.15 L910.76,339.39 L911.75,338.67 L912.75,337.98 L913.74,337.34 L914.74,336.75 L915.74,336.20 L916.73,335.71 L917.73,335.27 L918.72,334.89 L919.72,334.56 L920.72,334.29 L921.71,334.07 L922.71,333.92 L923.70,333.83 L924.70,333.80 L925.70,333.83 L926.70,333.93 L927.69,334.09 L928.69,334.32 L929.69,334.61 L930.69,334.96 L931.69,335.38 L932.68,335.85 L933.68,336.38 L934.68,336.96 L935.68,337.60 L936.68,338.28 L937.67,339.01 L938.67,339.79 L939.67,340.60 L940.67,341.45 L941.66,342.33 L942.66,343.24 L943.66,344.18 L944.66,345.14 L945.66,346.12 L946.65,347.10 L947.65,348.10 L948.65,349.10 L949.65,350.10 L950.65,351.10 L951.64,352.08 L952.64,353.06 L953.64,354.02 L954.64,354.96 L955.64,355.87 L956.63,356.75 L957.63,357.60 L958.63,358.41 L959.63,359.19 L960.62,359.92 L961.62,360.60 L962.62,361.24 L963.62,361.82 L964.62,362.35 L965.61,362.82 L966.61,363.24 L967.61,363.59 L968.61,363.88 L969.61,364.11 L970.60,364.27 L971.60,364.37 L972.60,364.40" fill="none" stroke="#2f978b" stroke-width="4" stroke-linejoin="round"/>
<rect x="616" y="262" width="341" height="22" fill="#f7cdcd"/>
<rect x="589" y="287.5" width="383.6" height="1.6" fill="#f0c8c6"/>
<line x1="589" y1="286" x2="972.6" y2="286" stroke="#8d2327" stroke-width="3.2"/>
<text x="621.0" y="278.8" font-size="16.4" font-weight="bold" fill="#731619" stroke="#731619" stroke-width="0.25" textLength="318.5" lengthAdjust="spacingAndGlyphs" letter-spacing="0.82">GLUCAGON RECEPTOR ACTIVATION THRESHOLD</text>
<rect x="872" y="134" width="101" height="23" fill="#f6dcdc"/>
<line x1="877" y1="145.2" x2="899" y2="145.2" stroke="#2f978b" stroke-width="4" stroke-linecap="round"/>
<text x="905.7" y="150.7" font-size="16" fill="#1c1c1c" stroke="#1c1c1c" stroke-width="0.12" textLength="67.5" lengthAdjust="spacingAndGlyphs" letter-spacing="0.80">Split Doses</text>
<rect x="796" y="290" width="163" height="19" fill="#dcf0dd"/>
<path d="M781,326 L781,299.6 L793.5,299.6" fill="none" stroke="#333" stroke-width="1.4"/>
<circle cx="781" cy="330.6" r="4.4" fill="#8cc8cc" stroke="#1e1e1e" stroke-width="1.6"/>
<text x="800.0" y="304.9" font-size="16" fill="#1c1c1c" stroke="#1c1c1c" stroke-width="0.12" textLength="154.5" lengthAdjust="spacingAndGlyphs" letter-spacing="0.80">Optimal Activation Range</text>
<rect x="830" y="373" width="143" height="19" fill="#dcf0dd"/>
<path d="M816.5,358 L816.5,383 L829,383" fill="none" stroke="#333" stroke-width="1.4"/>
<circle cx="816.5" cy="354" r="4.4" fill="#8cc8cc" stroke="#1e1e1e" stroke-width="1.6"/>
<text x="834.7" y="387.9" font-size="16" fill="#1c1c1c" stroke="#1c1c1c" stroke-width="0.12" textLength="137.7" lengthAdjust="spacingAndGlyphs" letter-spacing="0.80">Sub-Threshold Activity</text>
<path d="M589,134 L589,451.5 L972.6,451.5" fill="none" stroke="#111" stroke-width="2"/>
<line x1="589" y1="451.5" x2="589" y2="460" stroke="#111" stroke-width="2"/>
<line x1="637" y1="451.5" x2="637" y2="460" stroke="#111" stroke-width="2"/>
<line x1="685" y1="451.5" x2="685" y2="460" stroke="#111" stroke-width="2"/>
<line x1="733" y1="451.5" x2="733" y2="460" stroke="#111" stroke-width="2"/>
<line x1="781" y1="451.5" x2="781" y2="460" stroke="#111" stroke-width="2"/>
<line x1="829" y1="451.5" x2="829" y2="460" stroke="#111" stroke-width="2"/>
<line x1="877" y1="451.5" x2="877" y2="460" stroke="#111" stroke-width="2"/>
<line x1="925" y1="451.5" x2="925" y2="460" stroke="#111" stroke-width="2"/>
<line x1="973" y1="451.5" x2="973" y2="460" stroke="#111" stroke-width="2"/>
<text x="551.8" y="149.5" font-size="16" fill="#1c1c1c" stroke="#1c1c1c" stroke-width="0.12" textLength="27.3" lengthAdjust="spacingAndGlyphs" letter-spacing="0.80">High</text>
<text x="555.1" y="446.8" font-size="16" fill="#1c1c1c" stroke="#1c1c1c" stroke-width="0.12" textLength="24.4" lengthAdjust="spacingAndGlyphs" letter-spacing="0.80">Low</text>
<text x="81.7" y="477.7" font-size="14" font-weight="bold" fill="#151515" stroke="#151515" stroke-width="0.25" textLength="43.8" lengthAdjust="spacingAndGlyphs" letter-spacing="0.70">WEEK 1</text>
<text x="135.6" y="477.7" font-size="14" fill="#151515" stroke="#151515" stroke-width="0.12" textLength="28.9" lengthAdjust="spacingAndGlyphs" letter-spacing="0.70">Day 1</text>
<text x="180.6" y="477.7" font-size="14" fill="#151515" stroke="#151515" stroke-width="0.12" textLength="30.0" lengthAdjust="spacingAndGlyphs" letter-spacing="0.70">Day 3</text>
<text x="226.2" y="477.7" font-size="14" fill="#151515" stroke="#151515" stroke-width="0.12" textLength="31.0" lengthAdjust="spacingAndGlyphs" letter-spacing="0.70">Day 5</text>
<text x="264.5" y="477.7" font-size="14" font-weight="bold" fill="#151515" stroke="#151515" stroke-width="0.25" textLength="45.8" lengthAdjust="spacingAndGlyphs" letter-spacing="0.70">WEEK 2</text>
<text x="319.7" y="477.7" font-size="14" fill="#151515" stroke="#151515" stroke-width="0.12" textLength="28.7" lengthAdjust="spacingAndGlyphs" letter-spacing="0.70">Day 1</text>
<text x="364.4" y="477.7" font-size="14" fill="#151515" stroke="#151515" stroke-width="0.12" textLength="30.9" lengthAdjust="spacingAndGlyphs" letter-spacing="0.70">Day 3</text>
<text x="409.7" y="477.7" font-size="14" fill="#151515" stroke="#151515" stroke-width="0.12" textLength="30.9" lengthAdjust="spacingAndGlyphs" letter-spacing="0.70">Day 5</text>
<text x="450.8" y="477.7" font-size="14" fill="#151515" stroke="#151515" stroke-width="0.12" textLength="40.6" lengthAdjust="spacingAndGlyphs" letter-spacing="0.70">Week 3</text>
<text x="85.6" y="494.0" font-size="14" fill="#202020" stroke="#202020" stroke-width="0.12" textLength="36.7" lengthAdjust="spacingAndGlyphs" letter-spacing="0.70">(Dose)</text>
<text x="269.2" y="494.0" font-size="14" fill="#202020" stroke="#202020" stroke-width="0.12" textLength="36.7" lengthAdjust="spacingAndGlyphs" letter-spacing="0.70">(Dose)</text>
<text x="567.0" y="477.7" font-size="14" font-weight="bold" fill="#151515" stroke="#151515" stroke-width="0.25" textLength="44.6" lengthAdjust="spacingAndGlyphs" letter-spacing="0.70">WEEK 1</text>
<text x="624.8" y="477.7" font-size="14" fill="#151515" stroke="#151515" stroke-width="0.12" textLength="29.0" lengthAdjust="spacingAndGlyphs" letter-spacing="0.70">Day 1</text>
<text x="670.6" y="477.7" font-size="14" fill="#151515" stroke="#151515" stroke-width="0.12" textLength="30.0" lengthAdjust="spacingAndGlyphs" letter-spacing="0.70">Day 3</text>
<text x="717.5" y="477.7" font-size="14" fill="#151515" stroke="#151515" stroke-width="0.12" textLength="30.9" lengthAdjust="spacingAndGlyphs" letter-spacing="0.70">Day 5</text>
<text x="758.3" y="477.7" font-size="14" font-weight="bold" fill="#151515" stroke="#151515" stroke-width="0.25" textLength="45.3" lengthAdjust="spacingAndGlyphs" letter-spacing="0.70">WEEK 2</text>
<text x="816.6" y="477.7" font-size="14" fill="#151515" stroke="#151515" stroke-width="0.12" textLength="29.2" lengthAdjust="spacingAndGlyphs" letter-spacing="0.70">Day 1</text>
<text x="861.9" y="477.7" font-size="14" fill="#151515" stroke="#151515" stroke-width="0.12" textLength="30.4" lengthAdjust="spacingAndGlyphs" letter-spacing="0.70">Day 3</text>
<text x="909.7" y="477.7" font-size="14" fill="#151515" stroke="#151515" stroke-width="0.12" textLength="30.8" lengthAdjust="spacingAndGlyphs" letter-spacing="0.70">Day 5</text>
<text x="952.2" y="477.7" font-size="14" fill="#151515" stroke="#151515" stroke-width="0.12" textLength="40.6" lengthAdjust="spacingAndGlyphs" letter-spacing="0.70">Week 3</text>
<text x="571.7" y="494.0" font-size="14" fill="#202020" stroke="#202020" stroke-width="0.12" textLength="36.0" lengthAdjust="spacingAndGlyphs" letter-spacing="0.70">(Dose)</text>
<text x="763.0" y="494.0" font-size="14" fill="#202020" stroke="#202020" stroke-width="0.12" textLength="35.9" lengthAdjust="spacingAndGlyphs" letter-spacing="0.70">(Dose)</text>
<text x="224.3" y="528.4" font-size="20" font-weight="bold" fill="#121212" stroke="#121212" stroke-width="0.5" textLength="105.0" lengthAdjust="spacingAndGlyphs" letter-spacing="1.00">TIME (Weeks)</text>
<text x="728.5" y="528.4" font-size="20" font-weight="bold" fill="#121212" stroke="#121212" stroke-width="0.5" textLength="104.5" lengthAdjust="spacingAndGlyphs" letter-spacing="1.00">TIME (Weeks)</text>
<text transform="translate(49.2,385.5) rotate(-90)" font-size="20.6" font-weight="bold" fill="#151515" stroke="#151515" stroke-width="0.7" letter-spacing="1.5" textLength="183.5" lengthAdjust="spacingAndGlyphs">RECEPTOR ACTIVATION</text>
<text transform="translate(68.2,314) rotate(-90)" font-size="16.5" fill="#222" stroke="#222" stroke-width="0.3" letter-spacing="0.8" textLength="49.5" lengthAdjust="spacingAndGlyphs">Medium</text>
<text transform="translate(559.2,385.5) rotate(-90)" font-size="20.6" font-weight="bold" fill="#151515" stroke="#151515" stroke-width="0.7" letter-spacing="1.5" textLength="183.5" lengthAdjust="spacingAndGlyphs">RECEPTOR ACTIVATION</text>
<text transform="translate(579.2,314) rotate(-90)" font-size="16.5" fill="#222" stroke="#222" stroke-width="0.3" letter-spacing="0.8" textLength="49.5" lengthAdjust="spacingAndGlyphs">Medium</text>
<path d="M982,512 Q985,527 1000,530.3 Q985,533.5 982,548.5 Q979,533.5 964,530.3 Q979,527 982,512 Z" fill="#f3f5f6"/>
</svg>
</body></html>
